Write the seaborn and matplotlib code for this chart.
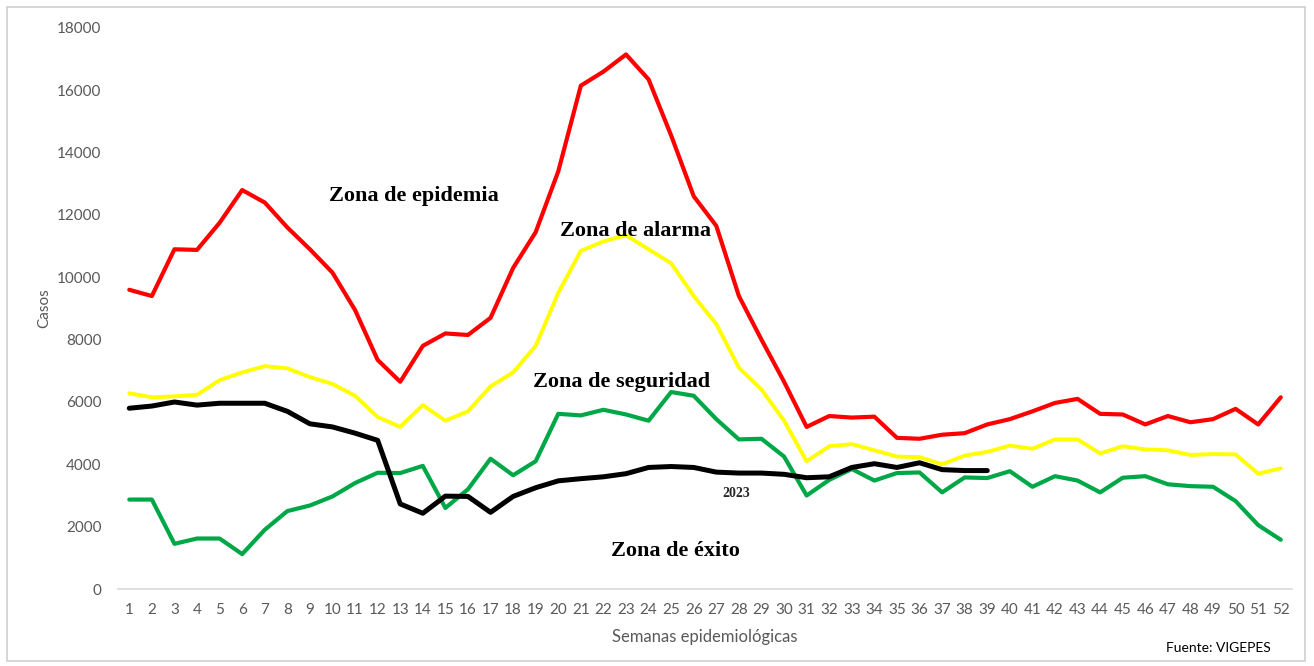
import numpy as np
import pandas as pd
import matplotlib
matplotlib.use("Agg")
import matplotlib.pyplot as plt
import seaborn as sns

# --- datos (semanas epidemiológicas) ---
semanas = list(range(1, 53))

epidemia = [9600, 9400, 10900, 10880, 11750, 12800, 12400, 11600, 10900, 10150,
            8950, 7350, 6650, 7800, 8200, 8150, 8700, 10300, 11450, 13400,
            16150, 16600, 17150, 16350, 14550, 12600, 11650, 9400, 8000, 6650,
            5200, 5550, 5500, 5530, 4850, 4820, 4950, 5000, 5280, 5450,
            5700, 5970, 6100, 5620, 5600, 5280, 5550, 5350, 5450, 5780,
            5280, 6150]

alarma = [6280, 6150, 6180, 6230, 6700, 6950, 7150, 7080, 6800, 6580,
          6200, 5520, 5200, 5900, 5400, 5700, 6500, 6950, 7800, 9500,
          10850, 11150, 11350, 10900, 10450, 9400, 8500, 7100, 6400, 5400,
          4100, 4580, 4650, 4450, 4250, 4230, 4000, 4280, 4400, 4600,
          4500, 4800, 4800, 4350, 4580, 4480, 4450, 4300, 4330, 4320,
          3700, 3870]

seguridad = [2870, 2870, 1450, 1620, 1620, 1120, 1900, 2500, 2680, 2970,
             3400, 3730, 3720, 3950, 2600, 3200, 4180, 3650, 4100, 5620,
             5570, 5750, 5600, 5400, 6320, 6200, 5450, 4800, 4820, 4250,
             3000, 3500, 3850, 3480, 3720, 3740, 3100, 3580, 3560, 3780,
             3280, 3620, 3480, 3100, 3570, 3620, 3360, 3300, 3280, 2820,
             2050, 1580]

casos_2023 = [5800, 5870, 6000, 5900, 5960, 5960, 5960, 5700, 5300, 5200,
              5000, 4770, 2730, 2430, 2980, 2970, 2460, 2970, 3250, 3470,
              3540, 3600, 3700, 3900, 3930, 3900, 3750, 3720, 3720, 3680,
              3570, 3600, 3900, 4020, 3900, 4050, 3830, 3800, 3800]

yticks = list(range(0, 18001, 2000))

# --- estilo ---
sns.set_style("white")
plt.rcParams['font.family'] = ['Lato', 'DejaVu Sans']
GRIS = "#595959"

fig = plt.figure(figsize=(13.14, 6.66), dpi=100)
ax = fig.add_axes([0.0898, 0.1156, 0.8935, 0.8424])

# borde exterior de la figura
fig.patches.append(plt.Rectangle((0.005, 0.008), 0.988, 0.982, transform=fig.transFigure,
                                 fill=False, edgecolor="#d0d0d0", linewidth=1.2))

sns.lineplot(x=semanas, y=epidemia, color="#ff0000", linewidth=3.0, ax=ax)
sns.lineplot(x=semanas, y=alarma, color="#ffff00", linewidth=2.8, ax=ax)
sns.lineplot(x=semanas, y=seguridad, color="#00a746", linewidth=3.0, ax=ax)
sns.lineplot(x=semanas[:len(casos_2023)], y=casos_2023, color="black", linewidth=3.6,
             ax=ax, solid_capstyle="round")

ax.set_xlim(0.5, 52.5)
ax.set_ylim(0, 18000)
ax.set_xticks(semanas)
ax.set_xticklabels([str(s) for s in semanas], fontsize=11, color=GRIS)
ax.set_yticks(yticks)
ax.set_yticklabels([str(t) for t in yticks], fontsize=11, color=GRIS)
ax.tick_params(axis="x", length=0, pad=10)
ax.tick_params(axis="y", length=0, pad=12)

for lado in ["top", "right", "left"]:
    ax.spines[lado].set_visible(False)
ax.spines["bottom"].set_color("#d9d9d9")
ax.spines["bottom"].set_linewidth(1.2)

ax.set_xlabel("Semanas epidemiológicas", fontsize=12, color=GRIS, labelpad=9)
ax.set_ylabel("Casos", fontsize=11, color=GRIS, labelpad=4)

# etiquetas de zonas
serif = dict(family="Liberation Serif", fontweight="bold", fontsize=16, color="black",
             ha="center", va="center")
ax.text(13.6, 12600, "Zona de epidemia", **serif)
ax.text(23.4, 11500, "Zona de alarma", **serif)
ax.text(22.8, 6650, "Zona de seguridad", **serif)
ax.text(25.2, 1220, "Zona de éxito", **serif)
ax.text(27.9, 3080, "2023", family="Liberation Serif", fontweight="bold", fontsize=10,
        ha="center", va="center")

fig.text(0.927, 0.027, "Fuente: VIGEPES", fontsize=10, color="black", ha="center", va="center")

fig.savefig("out.png", dpi=100)
